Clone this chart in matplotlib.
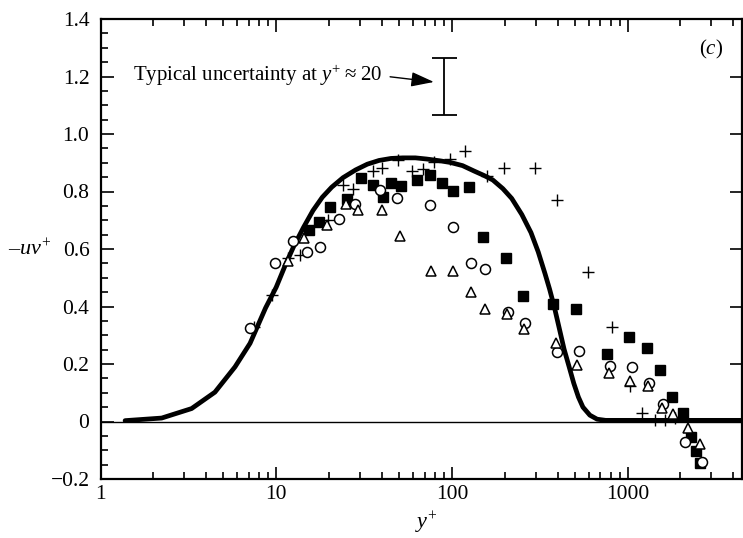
import matplotlib
matplotlib.use("Agg")
import matplotlib.pyplot as plt
from matplotlib.ticker import LogLocator, MultipleLocator, FixedLocator, FixedFormatter, NullFormatter

plt.rcParams['font.family'] = ['Liberation Serif', 'DejaVu Serif']
plt.rcParams['mathtext.fontset'] = 'custom'
plt.rcParams['mathtext.rm'] = 'Liberation Serif'
plt.rcParams['mathtext.it'] = 'Liberation Serif:italic'

# ---- data ----
curve_x = [1.38, 2.23, 3.3, 4.48, 5.83, 7.1, 8.7, 10, 11.2, 12.6, 14.3, 16.2, 18.3, 20.7, 24,
           28.3, 33, 38.5, 45, 52.6, 62, 71.8, 85, 98, 115, 134, 152, 171, 195, 219, 250, 282,
           310, 339, 360, 384, 410, 435, 465, 494, 525, 557, 610, 671, 750, 1000, 2000, 4500]
curve_y = [0.003, 0.012, 0.045, 0.102, 0.19, 0.272, 0.395, 0.467, 0.54, 0.61, 0.675, 0.734,
           0.78, 0.815, 0.848, 0.875, 0.895, 0.908, 0.915, 0.917, 0.917, 0.913, 0.907, 0.901,
           0.89, 0.871, 0.856, 0.84, 0.81, 0.776, 0.72, 0.657, 0.59, 0.514, 0.46, 0.395, 0.32,
           0.252, 0.19, 0.133, 0.085, 0.05, 0.022, 0.008, 0.004, 0.004, 0.004, 0.004]

plus_x = [7.5, 9.5, 11.6, 13.7, 19.8, 24.1, 27.5, 35.5, 39.8, 49.5, 59, 68.8, 79.4, 97.5, 119,
          158, 198, 297, 398, 598, 811, 1028, 1215, 1430, 1640, 1860]
plus_y = [0.33, 0.44, 0.57, 0.578, 0.70, 0.824, 0.81, 0.872, 0.883, 0.908, 0.87, 0.878, 0.904,
          0.913, 0.94, 0.854, 0.881, 0.883, 0.77, 0.52, 0.33, 0.125, 0.03, 0.006, 0.006, 0.012]

square_x = [15.4, 17.6, 20.3, 25.3, 30.5, 35.6, 40.6, 45.3, 51, 63.2, 75.5, 88.3, 101.7, 125,
            151, 204, 253, 377, 508, 760, 1024, 1288, 1532, 1798, 2065, 2305, 2440, 2595]
square_y = [0.666, 0.694, 0.746, 0.775, 0.847, 0.823, 0.781, 0.83, 0.818, 0.84, 0.856, 0.83,
            0.803, 0.817, 0.643, 0.568, 0.436, 0.41, 0.392, 0.234, 0.294, 0.256, 0.18, 0.085,
            0.029, -0.053, -0.104, -0.145]

circle_x = [7.1, 9.8, 12.4, 15.0, 17.7, 22.9, 28.2, 38.8, 49, 75, 101, 128, 154, 210, 260, 396,
            530, 797, 1056, 1330, 1600, 2130, 2660]
circle_y = [0.326, 0.553, 0.628, 0.588, 0.607, 0.705, 0.756, 0.805, 0.777, 0.753, 0.677, 0.55,
            0.532, 0.381, 0.344, 0.243, 0.245, 0.194, 0.19, 0.135, 0.06, -0.07, -0.141]

tri_x = [11.7, 14.4, 19.5, 25, 29.3, 40.1, 50.4, 75.7, 101.5, 128, 153.5, 205.5, 256, 389, 517,
         781, 1035, 1312, 1568, 1812, 2217, 2583]
tri_y = [0.56, 0.637, 0.685, 0.756, 0.735, 0.736, 0.646, 0.525, 0.525, 0.449, 0.39, 0.374, 0.322,
         0.273, 0.195, 0.167, 0.14, 0.122, 0.048, 0.025, -0.024, -0.077]

err_x = [90]
err_y = [1.165]
err_half = [0.1]

xticks = [1, 10, 100, 1000]
xtick_labels = ['1', '10', '100', '1000']
yticks = [-0.2, 0, 0.2, 0.4, 0.6, 0.8, 1.0, 1.2, 1.4]
ytick_labels = ['\u22120.2', '0', '0.2', '0.4', '0.6', '0.8', '1.0', '1.2', '1.4']

# ---- figure ----
fig = plt.figure(figsize=(7.43, 5.38), dpi=100)
ax = fig.add_axes([100.5 / 743, 1 - 479 / 538, (742 - 100.5) / 743, (479 - 19) / 538])
ax.set_xscale('log')
ax.set_xlim(1, 4480)
ax.set_ylim(-0.2, 1.4)

ax.axhline(0, color='black', lw=1.0, zorder=1)
ax.plot(curve_x, curve_y, color='black', lw=3.4, solid_joinstyle='round',
        solid_capstyle='round', zorder=2)

ms = 7.2
ax.plot(plus_x, plus_y, ls='none', marker='+', ms=8.5, mew=1.0, color='black', zorder=3)
ax.plot(square_x, square_y, ls='none', marker='s', ms=ms, color='black', zorder=3)
ax.plot(circle_x, circle_y, ls='none', marker='o', ms=ms, mfc='white', mec='black', mew=1.1, zorder=3)
ax.plot(tri_x, tri_y, ls='none', marker='^', ms=ms, mfc='white', mec='black', mew=1.1, zorder=3)

ax.errorbar(err_x, err_y, yerr=err_half, fmt='none', ecolor='black', elinewidth=1.3,
            capsize=9, capthick=1.3)
ax.annotate('', xy=(79, 1.181), xytext=(44.5, 1.199),
            arrowprops=dict(arrowstyle='-|>,head_length=1.4,head_width=0.45', color='black', lw=1.0,
                            shrinkA=0, shrinkB=0))
ax.text(1.53, 1.204, 'Typical uncertainty at $y^{+}$\u2009\u2248\u200920', fontsize=15,
        va='center', ha='left')
ax.text(2985, 1.293, '($c$)', fontsize=15, va='center', ha='center')

ax.xaxis.set_major_locator(FixedLocator(xticks))
ax.xaxis.set_major_formatter(FixedFormatter(xtick_labels))
ax.xaxis.set_minor_locator(LogLocator(base=10, subs=range(2, 10), numticks=20))
ax.xaxis.set_minor_formatter(NullFormatter())
ax.yaxis.set_major_locator(FixedLocator(yticks))
ax.yaxis.set_major_formatter(FixedFormatter(ytick_labels))
ax.yaxis.set_minor_locator(MultipleLocator(0.05))

ax.tick_params(which='both', direction='in', top=True, right=True, labelsize=15.5, width=1.2)
ax.tick_params(which='major', length=9)
ax.tick_params(which='minor', length=5)
ax.tick_params(axis='x', pad=4)
ax.tick_params(axis='y', pad=8)
ax.tick_params(axis='y', which='minor', right=False)
for s in ax.spines.values():
    s.set_linewidth(1.6)

fig.text(30 / 743, 1 - 250 / 538, '\u2013$uv^{+}$', fontsize=16, ha='center', va='center')
fig.text(426.5 / 743, 1 - 523 / 538, '$y^{+}$', fontsize=16, ha='center', va='center')

fig.savefig('out.png', dpi=100)
